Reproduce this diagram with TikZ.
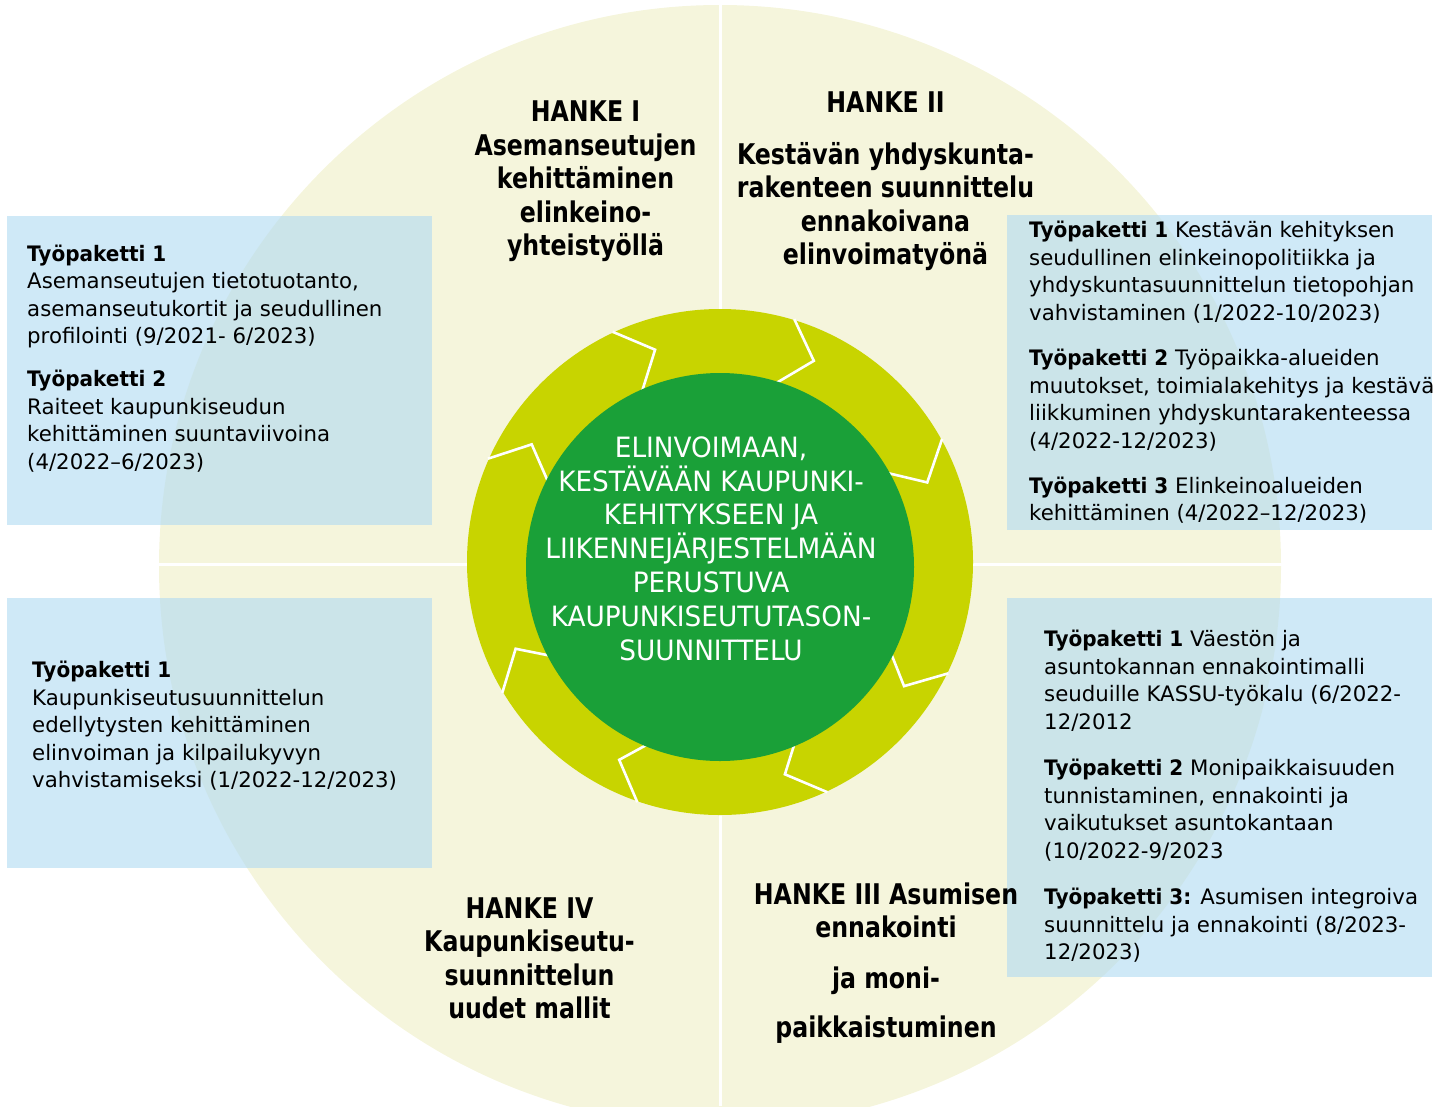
\documentclass[tikz,border=0pt]{standalone}
\usepackage{fontspec}
\setmainfont{DejaVu Sans}
\newfontfamily\hfont[FakeStretch=0.83]{DejaVu Sans}
\newfontfamily\kfont[FakeStretch=0.94]{DejaVu Sans}
\newfontfamily\cfont[FakeStretch=0.94]{DejaVu Sans}
\definecolor{beige}{RGB}{245,245,220}
\definecolor{ringc}{RGB}{200,212,0}
\definecolor{cgreen}{RGB}{26,160,56}
\definecolor{boxb}{RGB}{175,218,242}
\newcommand\tpk[1]{{\kfont\bfseries #1}}
\tikzset{
  boxfill/.style={fill=boxb, fill opacity=0.6},
  divider/.style={draw=white, line width=3},
  chev/.style={draw=white, line width=2.6, line join=miter},
  boxtext/.style={anchor=north west, inner sep=0pt, align=left, text=black,
    font={\fontsize{21.3}{27.5}\selectfont}},
  head/.style={anchor=north, inner sep=0pt, align=center, text=black,
    font={\hfont\bfseries\fontsize{28.5}{33.5}\selectfont}},
  ctrtext/.style={anchor=north, inner sep=0pt, align=center, text=white,
    font={\cfont\fontsize{28}{33.8}\selectfont}}
}
\begin{document}
\begin{tikzpicture}[x=1pt,y=-1pt]
\useasboundingbox (0,0) rectangle (1456,1106);
\clip (0,0) rectangle (1456,1106);
% big background circle
\fill[beige] (720,566) circle[radius=561];
% quadrant dividers
\draw[divider] (720,0) -- (720,1106);
\draw[divider] (150,564) -- (1290,564);
% ring
\coordinate (rc) at (720,562);
\fill[ringc] (rc) circle[radius=253];
\foreach \a in {107,65,21,-34,-73,-117,-157,148}{
  \draw[chev, shift={(rc)}] ({-(\a+8)}:254) -- ({-\a}:222) -- ({-(\a+8)}:186);
}
% inner green circle
\fill[cgreen] (720,567) circle[radius=194];
\node[ctrtext] (ctr) at (711,434) {\rule{0pt}{23pt}ELINVOIMAAN,\\KESTÄVÄÄN KAUPUNKI-\\KEHITYKSEEN JA\\LIIKENNEJÄRJESTELMÄÄN\\PERUSTUVA\\KAUPUNKISEUTUTASON-\\SUUNNITTELU};
% boxes
\fill[boxfill] (7,216) rectangle (432,525);
\fill[boxfill] (1007,215) rectangle (1432,530);
\fill[boxfill] (7,598) rectangle (432,868);
\fill[boxfill] (1007,598) rectangle (1432,977);
% box texts
\node[boxtext] (t1) at (27,243) {\rule{0pt}{18pt}\tpk{Työpaketti 1}\\Asemanseutujen tietotuotanto,\\asemanseutukortit ja seudullinen\\profilointi (9/2021- 6/2023)\\[15.5pt]\tpk{Työpaketti 2}\\Raiteet kaupunkiseudun\\kehittäminen suuntaviivoina\\(4/2022–6/2023)};
\node[boxtext] (t2) at (1029,219.3) {\rule{0pt}{18pt}\tpk{Työpaketti 1} Kestävän kehityksen\\seudullinen elinkeinopolitiikka ja\\yhdyskuntasuunnittelun tietopohjan\\vahvistaminen (1/2022-10/2023)\\[18pt]\tpk{Työpaketti 2} Työpaikka-alueiden\\muutokset, toimialakehitys ja kestävä\\liikkuminen yhdyskuntarakenteessa\\(4/2022-12/2023)\\[17.5pt]\tpk{Työpaketti 3} Elinkeinoalueiden\\kehittäminen (4/2022–12/2023)};
\node[boxtext] (t3) at (32,659.3) {\rule{0pt}{18pt}\tpk{Työpaketti 1}\\Kaupunkiseutusuunnittelun\\edellytysten kehittäminen\\elinvoiman ja kilpailukyvyn\\vahvistamiseksi (1/2022-12/2023)};
\node[boxtext] (t4) at (1044,628.7) {\rule{0pt}{18pt}\tpk{Työpaketti 1} Väestön ja\\asuntokannan ennakointimalli\\seuduille KASSU-työkalu (6/2022-\\12/2012\\[19pt]\tpk{Työpaketti 2} Monipaikkaisuuden\\tunnistaminen, ennakointi ja\\vaikutukset asuntokantaan\\(10/2022-9/2023\\[19pt]\tpk{Työpaketti 3:} Asumisen integroiva\\suunnittelu ja ennakointi (8/2023-\\12/2023)};
% headings
\node[head] (h1) at (585.5,97.7) {\rule{0pt}{24pt}HANKE I\\Asemanseutujen\\kehittäminen\\elinkeino-\\yhteistyöllä};
\node[head] (h2) at (885.5,88.5) {\rule{0pt}{24pt}HANKE II\\[18pt]Kestävän yhdyskunta-\\rakenteen suunnittelu\\ennakoivana\\elinvoimatyönä};
\node[head] (h3) at (886,880) {\rule{0pt}{24pt}HANKE III Asumisen\\ennakointi\\[17.5pt]ja moni-\\[15.5pt]paikkaistuminen};
\node[head] (h4) at (529.5,894) {\rule{0pt}{24pt}HANKE IV\\Kaupunkiseutu-\\suunnittelun\\uudet mallit};
\end{tikzpicture}
\end{document}
